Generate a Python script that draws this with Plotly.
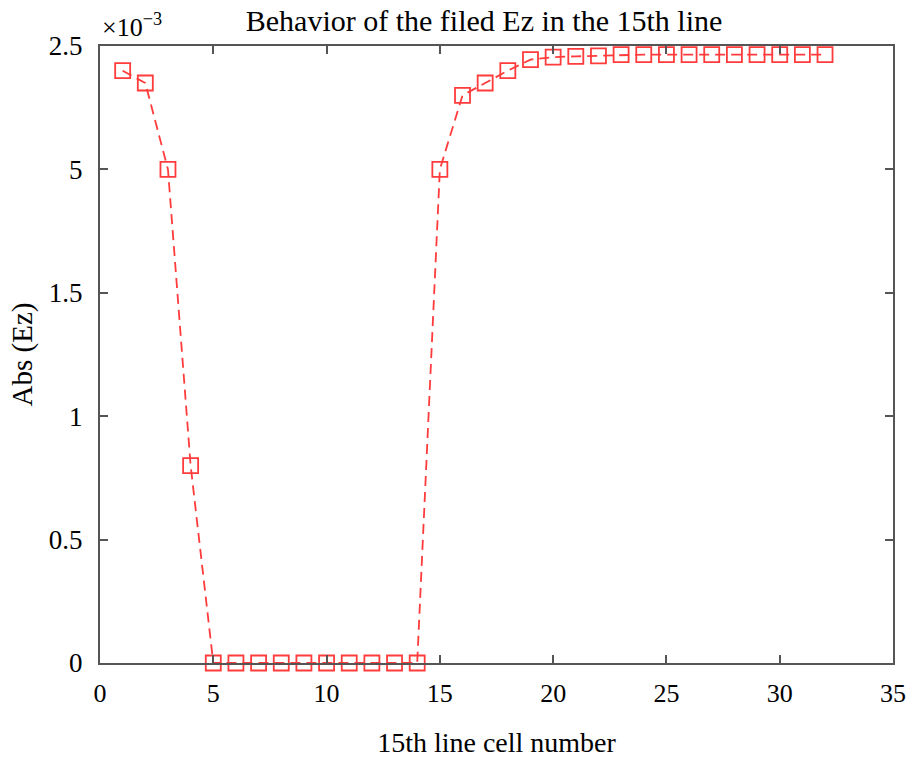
import plotly.graph_objects as go

# Cell index along the 15th line and |Ez| in units of 1e-3
cells = list(range(1, 33))
abs_ez = [2.40, 2.35, 2.00, 0.80, 0.0, 0.0, 0.0, 0.0, 0.0, 0.0,
          0.0, 0.0, 0.0, 0.0, 2.00, 2.30, 2.35, 2.40, 2.445, 2.455,
          2.458, 2.46, 2.465, 2.465, 2.465, 2.465, 2.465, 2.465, 2.465, 2.465,
          2.465, 2.465]

x_ticks = [0, 5, 10, 15, 20, 25, 30, 35]
y_ticks = [0, 0.5, 1, 1.5, 2, 2.5]
y_tick_text = ["0", "0.5", "1", "1.5", "5", "2.5"]

serif = "Liberation Serif, Times New Roman, serif"
axis_col = "#555555"
red = "#ff3b3b"

fig = go.Figure()
fig.add_trace(go.Scatter(
    x=cells, y=abs_ez, mode="lines+markers",
    line=dict(color=red, width=1.8, dash="10px,6px"),
    marker=dict(symbol="square-open", size=15, color=red,
                line=dict(width=1.8, color=red)),
    cliponaxis=False, showlegend=False,
))

fig.update_layout(
    width=915, height=758,
    paper_bgcolor="white", plot_bgcolor="white",
    margin=dict(l=100, r=22, t=46, b=95),
    font=dict(family=serif, size=27, color="black"),
    title=dict(text="Behavior of the filed Ez in the 15th line",
               xref="container", x=0.529, xanchor="center",
               yref="container", y=0.973, yanchor="middle",
               font=dict(family=serif, size=30, color="black")),
)

fig.update_xaxes(
    range=[0, 35], tickvals=x_ticks, ticks="inside", ticklen=8,
    tickwidth=1.5, tickcolor=axis_col, showline=True, linecolor=axis_col,
    linewidth=2, mirror="ticks", showgrid=False, zeroline=False,
    tickfont=dict(family=serif, size=26), ticklabelstandoff=6,
    automargin=False,
    title=dict(text="15th line cell number", standoff=25,
               font=dict(family=serif, size=28)),
)
fig.update_yaxes(
    range=[0, 2.5], tickvals=y_ticks, ticktext=y_tick_text, ticks="inside",
    ticklen=8, tickwidth=1.5, tickcolor=axis_col, showline=True,
    linecolor=axis_col, linewidth=2, mirror="ticks", showgrid=False,
    zeroline=False, tickfont=dict(family=serif, size=27), ticklabelstandoff=10,
    automargin=False,
    title=dict(text="Abs (Ez)", standoff=8, font=dict(family=serif, size=29)),
)

fig.add_annotation(
    text="×10<sup>−3</sup>", xref="paper", yref="paper",
    x=0.0, y=1.0, xanchor="left", yanchor="bottom", yshift=2,
    showarrow=False, font=dict(family=serif, size=26, color="black"),
)

fig.write_html("out.html")
